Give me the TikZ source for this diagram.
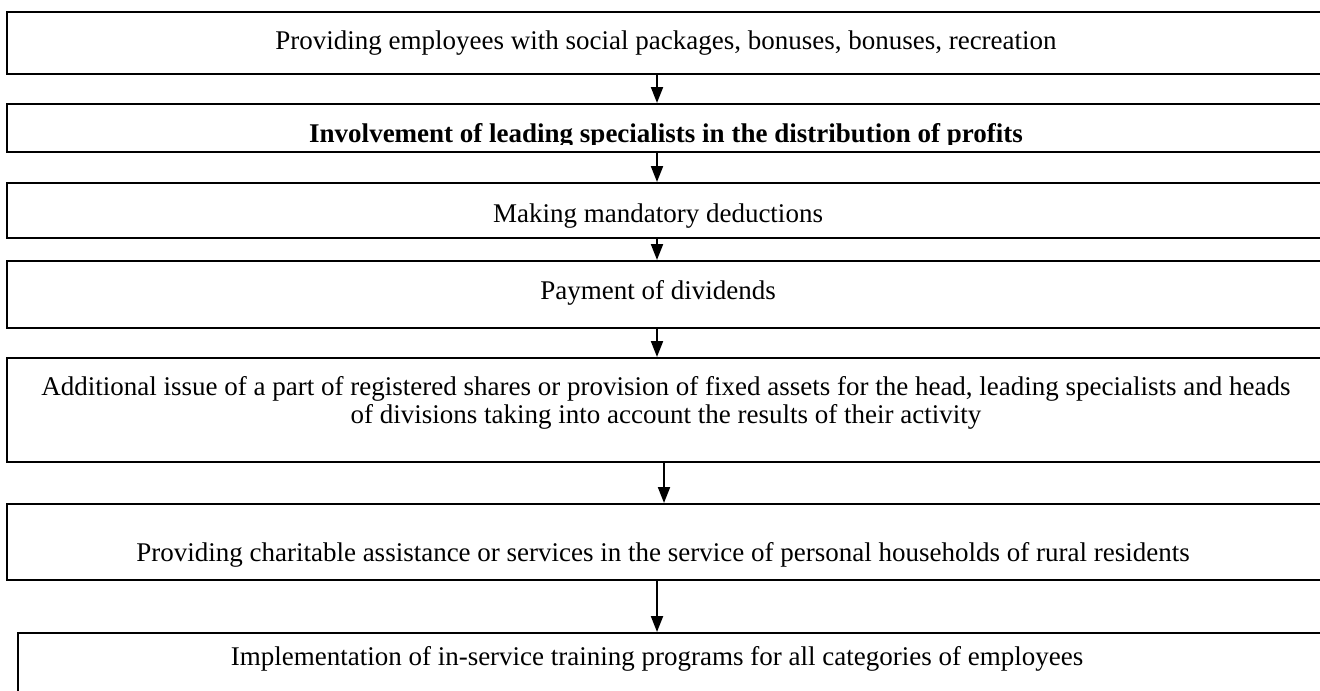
\documentclass[tikz,border=0pt]{standalone}
\usepackage{fontspec}
\setmainfont{Liberation Serif}
\usetikzlibrary{arrows.meta}

\tikzset{
  stage/.style={draw, rectangle, line width=1bp, inner sep=0pt, minimum width=659.5bp},
  stagetext/.style={inner sep=0pt, align=center, font=\fontsize{13.5bp}{14bp}\selectfont},
  flow/.style={-{Triangle[length=8bp,width=6bp]}, line width=1bp},
}

\begin{document}
\begin{tikzpicture}
  \useasboundingbox (0bp,0bp) rectangle (660bp,-345.5bp);
  \clip (0bp,0bp) rectangle (660bp,-345.5bp);

  % frames, the last one runs past the bottom edge
  \node (B1) at (333.25bp,-21.5bp)  [stage, minimum height=31bp]   {};
  \node (B2) at (333.25bp,-64bp)    [stage, minimum height=24bp]   {};
  \node (B3) at (333.25bp,-105.25bp) [stage, minimum height=27.5bp] {};
  \node (B4) at (333.25bp,-147.25bp) [stage, minimum height=33.5bp] {};
  \node (B5) at (333.25bp,-205bp)   [stage, minimum height=52bp]   {};
  \node (B6) at (333.25bp,-271bp)   [stage, minimum height=38bp]   {};
  \node (B7) at (337bp,-338.25bp)   [stage, minimum width=656bp, minimum height=43.5bp] {};

  \node (T1) at (333bp,-21.5bp) [stagetext] {Providing employees with social packages, bonuses, bonuses, recreation};
  % the bold line is cut off just under its baseline
  \begin{scope}
    \clip (0bp,-52bp) rectangle (660bp,-72bp);
    \node (T2) at (333bp,-68bp) [stagetext, font=\fontsize{13.5bp}{14bp}\selectfont\bfseries] {Involvement of leading specialists in the distribution of profits};
  \end{scope}
  \node (T3) at (329bp,-108bp)   [stagetext] {Making mandatory deductions};
  \node (T4) at (329bp,-146.5bp) [stagetext] {Payment of dividends};
  \node (T5) at (333bp,-201.5bp) [stagetext] {Additional issue of a part of registered shares or provision of fixed assets for the head, leading specialists and heads\\ of divisions taking into account the results of their activity};
  \node (T6) at (331.5bp,-277.5bp) [stagetext] {Providing charitable assistance or services in the service of personal households of rural residents};
  \node (T7) at (328.5bp,-329.5bp) [stagetext] {Implementation of in-service training programs for all categories of employees};

  \draw (B1.south -| 328.5bp,0) -- (B2.north -| 328.5bp,0) [flow];
  \draw (B2.south -| 328.5bp,0) -- (B3.north -| 328.5bp,0) [flow];
  \draw (B3.south -| 328.5bp,0) -- (B4.north -| 328.5bp,0) [flow];
  \draw (B4.south -| 328.5bp,0) -- (B5.north -| 328.5bp,0) [flow];
  \draw (B5.south -| 332bp,0)   -- (B6.north -| 332bp,0)   [flow];
  \draw (B6.south -| 328.5bp,0) -- (B7.north -| 328.5bp,0) [flow];
\end{tikzpicture}
\end{document}
